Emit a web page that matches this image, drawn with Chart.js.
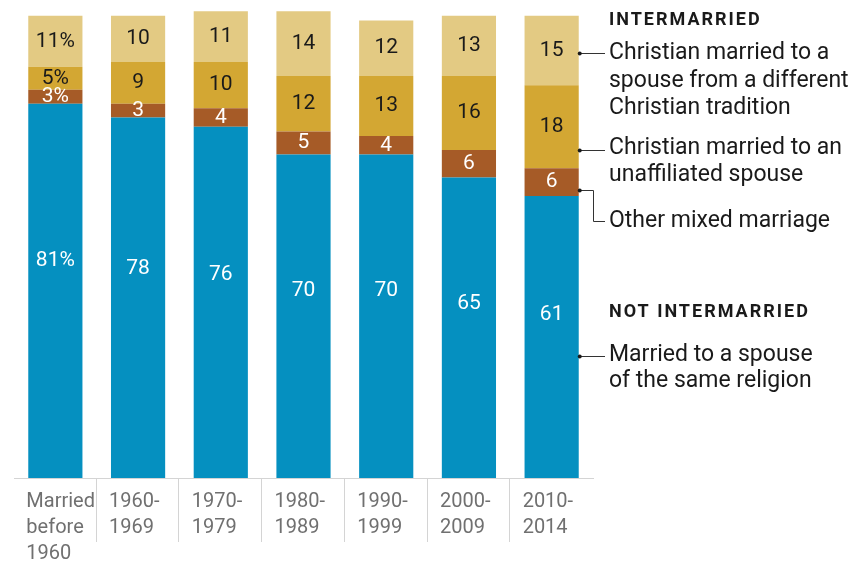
<!DOCTYPE html>
<html>
<head>
<meta charset="utf-8">
<script src="https://cdn.jsdelivr.net/npm/chart.js@4.4.1/dist/chart.umd.min.js"></script>
<style>
  html, body { margin: 0; padding: 0; background: #fff; }
  #chart { display: block; }
</style>
</head>
<body>
<canvas id="chart" width="856" height="564"></canvas>
<script>
// Religious mix of married couples, by year of marriage (percent)
const periods = [
    ["Married", "before", "1960"],
    ["1960-", "1969"],
    ["1970-", "1979"],
    ["1980-", "1989"],
    ["1990-", "1999"],
    ["2000-", "2009"],
    ["2010-", "2014"]
];
const sameReligion = [81, 78, 76, 70, 70, 65, 61];
const otherMixed = [3, 3, 4, 5, 4, 6, 6];
const unaffiliatedSpouse = [5, 9, 10, 12, 13, 16, 18];
const differentTradition = [11, 10, 11, 14, 12, 13, 15];

const FONT = "Roboto, 'Open Sans', sans-serif";

// Writes the value inside every segment
const barLabels = {
    id: "barLabels",
    afterDatasetsDraw(chart) {
        const ctx = chart.ctx;
        ctx.save();
        ctx.font = "21px " + FONT;
        ctx.textAlign = "center";
        ctx.textBaseline = "middle";
        chart.data.datasets.forEach((ds, i) => {
            chart.getDatasetMeta(i).data.forEach((bar, j) => {
                const top = Math.min(bar.y, bar.base);
                const h = Math.abs(bar.base - bar.y);
                ctx.fillStyle = ds.labelColor;
                const txt = j === 0 ? ds.data[j] + "%" : String(ds.data[j]);
                ctx.fillText(txt, bar.x, top + h * ds.labelPos);
            });
        });
        ctx.restore();
    }
};

// Dividers between the period labels under the axis
const dividers = {
    id: "dividers",
    afterDraw(chart) {
        const ctx = chart.ctx;
        const x = chart.scales.x;
        const bottom = chart.chartArea.bottom;
        ctx.save();
        ctx.strokeStyle = "#d4d4d4";
        ctx.lineWidth = 1;
        for (let i = 1; i < periods.length; i++) {
            const px = Math.round((x.getPixelForValue(i - 1) + x.getPixelForValue(i)) / 2) - 0.5;
            ctx.beginPath();
            ctx.moveTo(px, bottom);
            ctx.lineTo(px, bottom + 64);
            ctx.stroke();
        }
        ctx.restore();
    }
};

// Notes at the right of the last bar
const notes = {
    id: "notes",
    afterDraw(chart) {
        const ctx = chart.ctx;
        const last = chart.getDatasetMeta(0).data[periods.length - 1];
        const dotX = last.x + last.width / 2 + 1;
        const tx = 609;
        ctx.save();
        ctx.textAlign = "left";
        ctx.textBaseline = "middle";
        ctx.fillStyle = "#1a1a1a";

        ctx.font = "bold 18px " + FONT;
        ctx.letterSpacing = "2px";
        ctx.fillText("INTERMARRIED", tx, 20);
        ctx.fillText("NOT INTERMARRIED", tx, 312);
        ctx.letterSpacing = "0px";

        ctx.font = "23px " + FONT;
        const lines = [
            ["Christian married to a", 53],
            ["spouse from a different", 81],
            ["Christian tradition", 108],
            ["Christian married to an", 148],
            ["unaffiliated spouse", 175],
            ["Other mixed marriage", 221],
            ["Married to a spouse", 355],
            ["of the same religion", 381]
        ];
        lines.forEach(([t, y]) => ctx.fillText(t, tx, y));

        ctx.strokeStyle = "#333";
        ctx.lineWidth = 1;
        const paths = [
            [[dotX, 53.5], [605, 53.5]],
            [[dotX, 150.5], [605, 150.5]],
            [[dotX, 190.5], [593.5, 190.5], [593.5, 221.5], [605, 221.5]],
            [[dotX, 356.5], [605, 356.5]]
        ];
        paths.forEach(p => {
            ctx.beginPath();
            ctx.moveTo(p[0][0], p[0][1]);
            p.slice(1).forEach(pt => ctx.lineTo(pt[0], pt[1]));
            ctx.stroke();
            ctx.beginPath();
            ctx.arc(p[0][0], p[0][1], 2, 0, Math.PI * 2);
            ctx.fillStyle = "#1a1a1a";
            ctx.fill();
        });
        ctx.restore();
    }
};

new Chart(document.getElementById("chart").getContext("2d"), {
    type: "bar",
    data: {
        labels: periods,
        datasets: [
            { label: "Married to a spouse of the same religion", data: sameReligion,
              backgroundColor: "#0590c0", labelColor: "#ffffff", labelPos: 0.42 },
            { label: "Other mixed marriage", data: otherMixed,
              backgroundColor: "#a65b27", labelColor: "#ffffff", labelPos: 0.5 },
            { label: "Christian married to an unaffiliated spouse", data: unaffiliatedSpouse,
              backgroundColor: "#d3a733", labelColor: "#1a1a1a", labelPos: 0.5 },
            { label: "Christian married to a spouse from a different Christian tradition", data: differentTradition,
              backgroundColor: "#e3ca83", labelColor: "#1a1a1a", labelPos: 0.5 }
        ]
    },
    options: {
        responsive: false,
        animation: false,
        layout: { padding: { left: 14, right: 263, top: 2, bottom: -14 } },
        datasets: { bar: { categoryPercentage: 1, barPercentage: 0.655, borderWidth: 0 } },
        plugins: { legend: { display: false }, tooltip: { enabled: false } },
        scales: {
            x: {
                stacked: true,
                grid: { display: false, drawTicks: false },
                border: { display: true, color: "#d4d4d4" },
                ticks: {
                    align: "start",
                    labelOffset: -29,
                    padding: 11,
                    color: "#707070",
                    font: { family: FONT, size: 20, lineHeight: "26px" },
                    maxRotation: 0,
                    autoSkip: false
                }
            },
            y: {
                stacked: true,
                display: false,
                min: 0,
                max: 103
            }
        }
    },
    plugins: [barLabels, dividers, notes]
});
</script>
</body>
</html>
